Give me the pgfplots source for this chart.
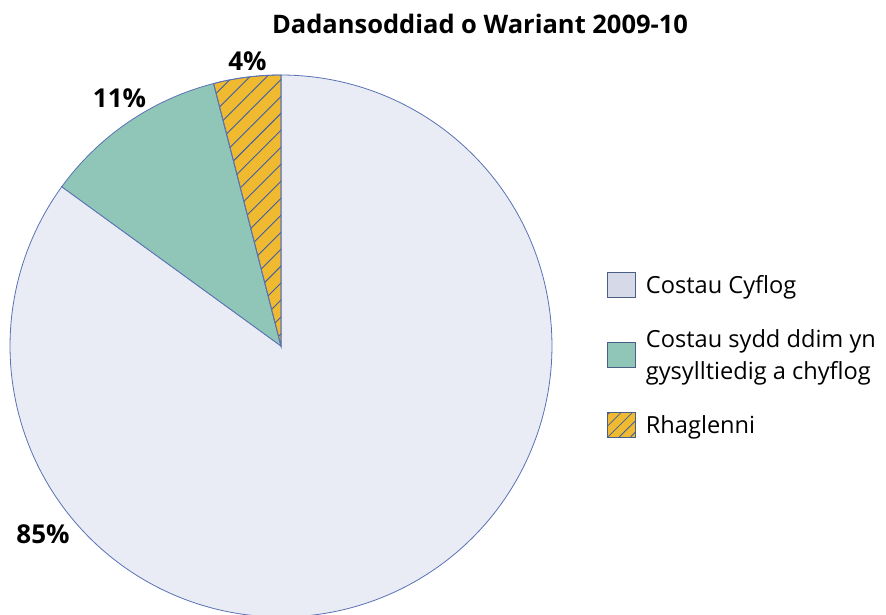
\documentclass[border=0pt]{standalone}
\usepackage{fontspec}
\setmainfont{Open Sans}
\usepackage{pgfplots}
\usepackage{pgfplotstable}
\pgfplotsset{compat=1.18}
\usetikzlibrary{patterns.meta}
\definecolor{pieA}{HTML}{E9ECF5}
\definecolor{legA}{HTML}{D6D9E8}
\definecolor{pieB}{HTML}{8FC6B8}
\definecolor{pieC}{HTML}{EFBA30}
\definecolor{outline}{HTML}{5A72B4}
\definecolor{hatch}{HTML}{3D5DA8}
\definecolor{legline}{HTML}{4A5F86}
\pgfplotstableread{
label value
Cyflog 85
Eraill 11
Rhaglenni 4
}\wariant
\begin{document}
\begin{tikzpicture}
\pgfplotstablegetelem{0}{value}\of\wariant \edef\vA{\pgfplotsretval}
\pgfplotstablegetelem{1}{value}\of\wariant \edef\vB{\pgfplotsretval}
\pgfplotstablegetelem{2}{value}\of\wariant \edef\vC{\pgfplotsretval}
\pgfmathsetmacro\aC{90+3.6*\vC}
\pgfmathsetmacro\aB{\aC+3.6*\vB}
\pgfmathsetmacro\aA{\aB+3.6*\vA}
\def\cx{281}\def\cy{-346}\def\rr{271}
\begin{axis}[
  x=1bp, y=1bp,
  xmin=0, xmax=886, ymin=-615, ymax=0,
  hide axis, clip=false,
  legend image code/.code={\draw[#1] (0bp,-12.5bp) rectangle (28bp,12.5bp);},
  legend cell align=left,
  legend style={draw=none, fill=none, inner sep=0pt, outer sep=0pt,
    at={(axis description cs:0.6851,0.5577)}, anchor=north west,
    font=\fontsize{23.6bp}{32bp}\selectfont,
    nodes={inner sep=0pt, align=left},
    row sep=31.5bp, column sep=10bp},
]
\addplot[forget plot, fill=pieA, draw=outline, line width=0.8bp, domain=\aB:\aA, samples=200, variable=\t]
  ({\cx+\rr*cos(\t)},{\cy+\rr*sin(\t)}) -- (\cx,\cy) -- cycle;
\addplot[forget plot, fill=pieB, draw=outline, line width=0.8bp, domain=\aC:\aB, samples=40, variable=\t]
  ({\cx+\rr*cos(\t)},{\cy+\rr*sin(\t)}) -- (\cx,\cy) -- cycle;
\addplot[forget plot, fill=pieC, draw=outline, line width=0.8bp,
  postaction={pattern={Lines[angle=45,distance=12bp,line width=0.9bp]}, pattern color=hatch},
  domain=90:\aC, samples=20, variable=\t]
  ({\cx+\rr*cos(\t)},{\cy+\rr*sin(\t)}) -- (\cx,\cy) -- cycle;
\addlegendimage{fill=legA, draw=legline, line width=0.9bp}
\addlegendentry{Costau Cyflog}
\addlegendimage{fill=pieB, draw=legline, line width=0.9bp}
\addlegendentry{Costau sydd ddim yn\\gysylltiedig a chyflog}
\addlegendimage{fill=pieC, draw=legline, line width=0.9bp, postaction={pattern={Lines[angle=45,distance=8bp,line width=0.8bp]}, pattern color=hatch}}
\addlegendentry{Rhaglenni}
\node[anchor=base, font=\bfseries\fontsize{25.5bp}{30bp}\selectfont] at (480,-33) {Dadansoddiad o Wariant 2009-10};
\node[anchor=base, font=\bfseries\fontsize{26bp}{30bp}\selectfont] at (247.5,-70) {4\%};
\node[anchor=base, font=\bfseries\fontsize{26bp}{30bp}\selectfont] at (119.5,-107) {11\%};
\node[anchor=base, font=\bfseries\fontsize{26bp}{30bp}\selectfont] at (43,-543) {85\%};
\end{axis}
\pgfresetboundingbox
\path[use as bounding box] (0,0) rectangle (886bp,615bp);
\end{tikzpicture}
\end{document}
